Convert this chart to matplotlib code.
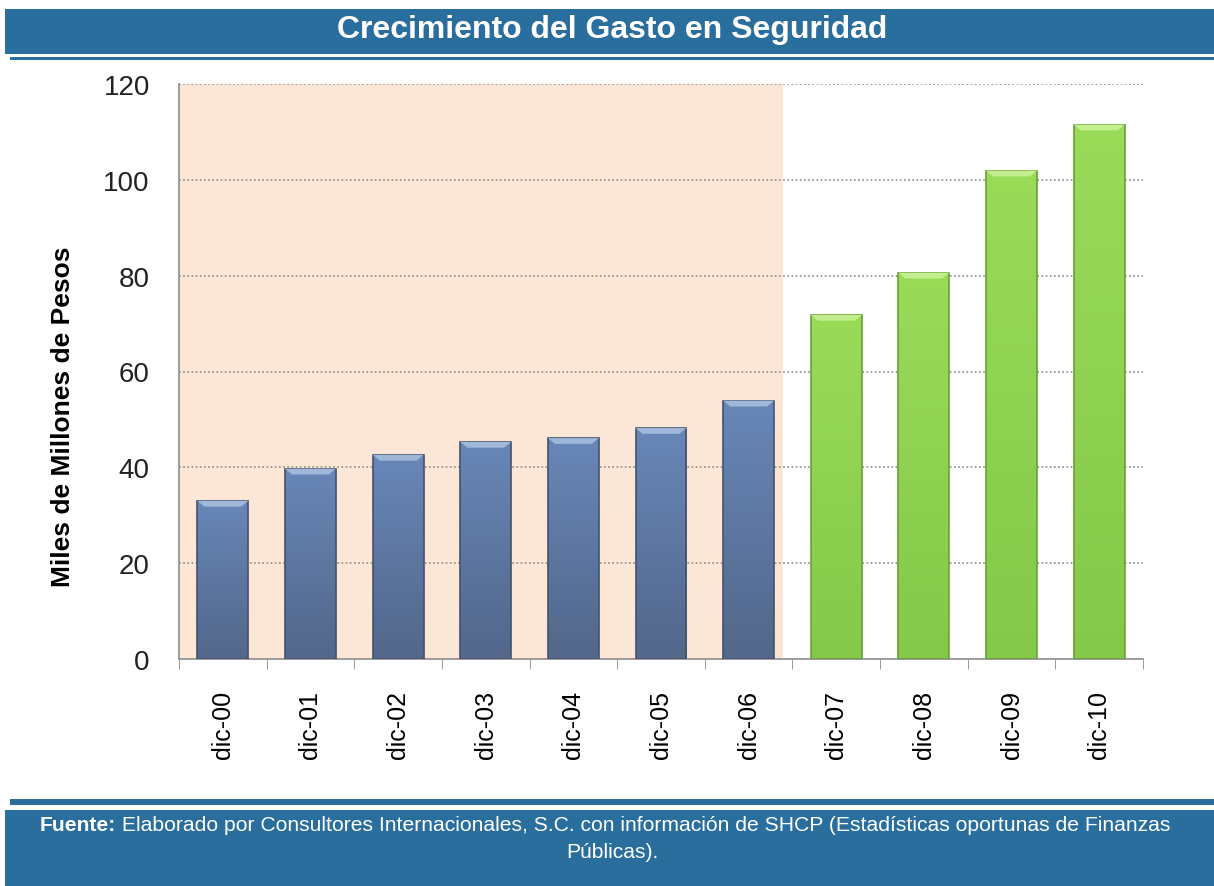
import matplotlib
matplotlib.use("Agg")
import matplotlib.pyplot as plt
import numpy as np
from matplotlib.patches import Rectangle
from matplotlib.colors import LinearSegmentedColormap

categories = ["dic-00", "dic-01", "dic-02", "dic-03", "dic-04", "dic-05",
              "dic-06", "dic-07", "dic-08", "dic-09", "dic-10"]
values = [33.0, 39.7, 42.6, 45.3, 46.1, 48.2, 53.9, 71.8, 80.6, 101.9, 111.5]
n_blue = 7  # first seven bars (dic-00 .. dic-06) in blue, rest green
yticks = [0, 20, 40, 60, 80, 100, 120]

title = "Crecimiento del Gasto en Seguridad"
ylabel = "Miles de Millones de Pesos"
source_bold = "Fuente:"
source_text = (" Elaborado por Consultores Internacionales, S.C. con información de SHCP "
               "(Estadísticas oportunas de Finanzas")
source_text2 = "Públicas)."

band = "#2A6E9E"
fig = plt.figure(figsize=(12.14, 8.87), dpi=100)
fig.patch.set_facecolor("white")

# title band
fig.patches.append(Rectangle((5/1214, 1-55/887), 1209/1214, 45/887, transform=fig.transFigure,
                             facecolor=band, edgecolor="none"))
fig.patches.append(Rectangle((10/1214, 1-61/887), 1204/1214, 3/887, transform=fig.transFigure,
                             facecolor=band, edgecolor="none"))
fig.text(612/1214, 1-30/887, title, ha="center", va="center", color="white",
         fontsize=23, fontweight="bold", family="Liberation Sans")

# footer band
fig.patches.append(Rectangle((10/1214, 1-806/887), 1204/1214, 6/887, transform=fig.transFigure,
                             facecolor=band, edgecolor="none"))
fig.patches.append(Rectangle((5/1214, 0), 1209/1214, 1-811/887, transform=fig.transFigure,
                             facecolor=band, edgecolor="none"))
t1 = fig.text(40/1214, 1-826/887, source_bold, ha="left", va="center", color="white",
              fontsize=15.2, fontweight="bold", family="Liberation Sans")
fig.canvas.draw()
bb = t1.get_window_extent()
fig.text(bb.x1/1214, 1-826/887, source_text, ha="left", va="center", color="white",
         fontsize=15.2, family="Liberation Sans")
fig.text(612/1214, 1-853/887, source_text2, ha="center", va="center", color="white",
         fontsize=15.2, family="Liberation Sans")

ax = fig.add_axes([179/1214, 1-660/887, (1143-179)/1214, (660-85)/887])
ax.set_facecolor("white")
x = np.arange(len(categories))
ax.set_xlim(-0.5, len(categories) - 0.5)
ax.set_ylim(0, 120)

# shaded period
ax.axvspan(-0.5, n_blue - 0.61, facecolor="#FCE6D6", edgecolor="none", zorder=0)

for yv in yticks[1:]:
    ax.axhline(yv, color="#8C8C8C", linestyle=(0, (1, 1.5)), linewidth=1.2, zorder=1)

width = 0.58
blue_cmap = LinearSegmentedColormap.from_list("b", ["#52678A", "#6887B8"])
green_cmap = LinearSegmentedColormap.from_list("g", ["#84C94A", "#9ADB58"])
grad = np.linspace(0, 1, 256).reshape(-1, 1)
for i, v in enumerate(values):
    cmap = blue_cmap if i < n_blue else green_cmap
    edge = "#43536F" if i < n_blue else "#6A9F3A"
    bar = ax.bar(x[i], v, width=width, color="none", edgecolor=edge, linewidth=1.2, zorder=3)[0]
    im = ax.imshow(grad, extent=(x[i]-width/2, x[i]+width/2, 0, v), origin="lower",
                   cmap=cmap, aspect="auto", zorder=2)
    im.set_clip_path(bar)
    # light bevel at top
    top = "#9FB8DA" if i < n_blue else "#C2EE8E"
    bev = 1.0
    ax.fill([x[i]-width/2, x[i]+width/2, x[i]+width/2-0.08, x[i]-width/2+0.08],
            [v, v, v-bev*1.2, v-bev*1.2], color=top, zorder=4, linewidth=0)

ax.set_aspect("auto")
ax.set_xticks(x)
ax.set_xticklabels(categories, rotation=90, fontsize=18, family="Liberation Sans")
ax.tick_params(axis="x", length=0, pad=22)
ax.set_xticks(np.arange(-0.5, len(categories), 1), minor=True)
ax.tick_params(axis="x", which="minor", length=7, color="#8C8C8C", direction="out")
ax.set_yticks(yticks)
ax.set_yticklabels([str(t) for t in yticks], fontsize=20, family="Liberation Sans",
                   color="#222222")
ax.tick_params(axis="y", length=0, pad=21)
for s in ["top", "right"]:
    ax.spines[s].set_visible(False)
for s in ["left", "bottom"]:
    ax.spines[s].set_color("#8C8C8C")
    ax.spines[s].set_linewidth(1.2)
ax.set_ylabel(ylabel, fontsize=19, fontweight="heavy", family="Liberation Sans")
ax.yaxis.set_label_coords(-0.108, 0.423)

fig.savefig("out.png", dpi=100)
